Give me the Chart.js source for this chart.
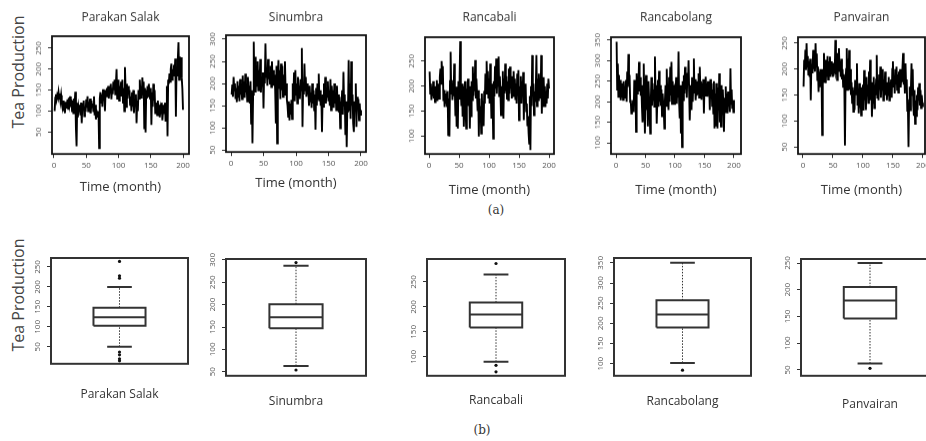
<!DOCTYPE html>
<html>
<head>
<meta charset="utf-8">
<script src="https://cdn.jsdelivr.net/npm/chart.js@4.4.0/dist/chart.umd.min.js"></script>
<style>
body { margin: 0; width: 926px; height: 441px; overflow: hidden; background: #fff; position: relative; font-family: "Open Sans", sans-serif; }
canvas { position: absolute; }
.lbl { position: absolute; color: #444; white-space: nowrap; transform: translate(-50%, -50%); }
.ylab { font-size: 16px; transform: translate(-50%, -50%) rotate(-90deg); }
.fig { font-size: 12px; color: #333; font-family: "DejaVu Serif", serif; }
</style>
</head>
<body>
<div class="lbl ylab" style="left:18px;top:72px">Tea Production</div>
<div class="lbl ylab" style="left:18px;top:295px">Tea Production</div>
<div class="lbl fig" style="left:496px;top:210px">(a)</div>
<div class="lbl fig" style="left:482px;top:430px">(b)</div>
<script>
const sites = ["Parakan Salak", "Sinumbra", "Rancabali", "Rancabolang", "Panvairan"];
const bottomNames = ["Parakan Salak", "Sinumbra", "Rancabali", "Rancabolang", "Panvairan"];

// monthly tea production, months 1..200
const parakanSalak = [
    100, 132, 140, 128, 138, 133, 145, 130, 142, 125,
    138, 120, 110, 125, 100, 118, 95, 122, 108, 115,
    128, 105, 132, 118, 135, 110, 128, 100, 125, 95,
    130, 115, 146, 60, 16, 120, 85, 110, 100, 115,
    90, 120, 71, 118, 105, 125, 88, 110, 98, 128,
    108, 135, 100, 122, 112, 130, 95, 125, 110, 118,
    100, 135, 90, 115, 80, 100, 95, 85, 100, 12,
    130, 145, 120, 140, 110, 152, 125, 145, 100, 150,
    135, 155, 140, 160, 130, 150, 145, 165, 128, 155,
    140, 170, 150, 175, 140, 165, 200, 130, 160, 175,
    125, 160, 140, 170, 135, 175, 120, 155, 100, 205,
    150, 110, 165, 130, 160, 140, 150, 115, 135, 100,
    145, 110, 150, 95, 130, 115, 140, 71, 125, 100,
    150, 130, 175, 140, 160, 130, 180, 140, 170, 59,
    155, 49, 150, 130, 160, 135, 165, 140, 130, 155,
    67, 145, 110, 165, 125, 150, 95, 120, 110, 90,
    125, 100, 115, 85, 105, 95, 120, 78, 100, 115,
    95, 120, 75, 110, 160, 40, 175, 165, 190, 170,
    200, 213, 175, 200, 185, 210, 190, 225, 87, 205,
    185, 225, 264, 175, 230, 190, 228, 180, 154, 103
];
const sinumbra = [
    175, 198, 170, 215, 185, 200, 165, 190, 158, 205,
    170, 195, 160, 210, 175, 200, 165, 218, 178, 205,
    168, 222, 180, 200, 160, 215, 175, 195, 155, 205,
    110, 185, 65, 175, 294, 190, 260, 180, 240, 195,
    250, 185, 230, 200, 255, 180, 215, 195, 225, 144,
    225, 200, 290, 215, 235, 195, 255, 210, 225, 200,
    240, 192, 250, 205, 230, 195, 220, 185, 110, 240,
    65, 210, 253, 190, 230, 165, 245, 185, 240, 170,
    220, 175, 250, 185, 200, 163, 150, 125, 160, 117,
    155, 130, 163, 120, 200, 170, 225, 160, 230, 175,
    200, 155, 215, 180, 195, 165, 210, 185, 280, 102,
    200, 175, 245, 185, 215, 170, 200, 175, 190, 150,
    195, 160, 180, 145, 200, 155, 185, 140, 175, 96,
    190, 150, 200, 165, 222, 160, 185, 150, 170, 91,
    175, 148, 200, 165, 215, 155, 190, 170, 205, 160,
    185, 150, 210, 140, 195, 160, 185, 145, 200, 155,
    180, 140, 195, 150, 175, 135, 170, 99, 160, 145,
    185, 130, 226, 150, 175, 84, 160, 57, 150, 135,
    253, 140, 200, 120, 250, 150, 175, 110, 91, 160,
    140, 200, 102, 170, 150, 165, 117, 155, 130, 140
];
const rancabali = [
    229, 185, 205, 172, 198, 180, 210, 175, 195, 168,
    200, 178, 212, 170, 190, 205, 175, 218, 235, 205,
    250, 225, 240, 170, 192, 158, 185, 165, 175, 160,
    190, 102, 175, 99, 210, 269, 185, 212, 172, 200,
    180, 245, 195, 140, 199, 119, 185, 115, 210, 175,
    218, 290, 190, 160, 205, 139, 200, 119, 175, 210,
    150, 115, 195, 175, 215, 160, 200, 115, 185, 140,
    210, 172, 239, 180, 225, 190, 252, 175, 215, 185,
    150, 192, 99, 175, 130, 160, 105, 185, 140, 170,
    120, 190, 165, 225, 185, 250, 200, 230, 175, 215,
    165, 245, 190, 135, 205, 170, 95, 210, 179, 240,
    195, 255, 185, 230, 200, 259, 180, 220, 190, 142,
    200, 172, 230, 135, 215, 185, 245, 190, 220, 175,
    210, 172, 235, 185, 239, 195, 220, 175, 210, 180,
    230, 190, 215, 172, 205, 165, 225, 180, 232, 132,
    200, 175, 220, 165, 210, 185, 228, 132, 195, 170,
    205, 150, 165, 120, 140, 105, 85, 180, 72, 200,
    160, 262, 185, 205, 142, 190, 170, 195, 262, 160,
    215, 172, 225, 185, 200, 175, 262, 145, 210, 160,
    218, 170, 200, 158, 190, 165, 205, 175, 215, 195
];
const rancabolang = [
    346, 230, 293, 212, 265, 215, 253, 204, 240, 210,
    245, 205, 250, 215, 235, 208, 253, 200, 273, 236,
    316, 250, 265, 200, 204, 172, 195, 180, 204, 175,
    253, 220, 245, 127, 269, 220, 250, 235, 297, 225,
    260, 215, 240, 188, 150, 170, 293, 200, 123, 240,
    265, 180, 230, 140, 250, 210, 180, 123, 200, 260,
    190, 245, 205, 230, 188, 310, 215, 240, 147, 200,
    253, 188, 275, 200, 240, 190, 230, 165, 220, 195,
    180, 135, 205, 240, 190, 280, 210, 235, 180, 260,
    200, 285, 215, 297, 195, 250, 210, 240, 195, 230,
    225, 260, 195, 245, 210, 322, 200, 160, 240, 123,
    215, 90, 250, 204, 265, 220, 285, 230, 255, 210,
    270, 240, 301, 225, 155, 215, 240, 180, 260, 200,
    245, 305, 220, 255, 204, 240, 215, 250, 220, 269,
    210, 285, 230, 250, 205, 245, 225, 255, 172, 240,
    215, 261, 225, 245, 212, 250, 220, 240, 180, 255,
    210, 245, 190, 230, 172, 250, 135, 220, 140, 245,
    200, 135, 235, 180, 269, 150, 220, 140, 240, 170,
    230, 190, 127, 210, 175, 237, 185, 220, 172, 225,
    190, 215, 175, 281, 195, 230, 185, 204, 175, 204
];
const panvairan = [
    166, 218, 200, 237, 198, 250, 205, 225, 190, 215,
    185, 220, 140, 210, 200, 192, 237, 200, 225, 195,
    250, 205, 230, 179, 205, 156, 195, 165, 200, 180,
    190, 73, 200, 175, 231, 190, 218, 173, 210, 185,
    225, 180, 215, 190, 224, 185, 215, 190, 205, 185,
    212, 200, 195, 256, 190, 225, 179, 231, 200, 240,
    195, 215, 185, 220, 180, 200, 166, 190, 170, 53,
    175, 200, 240, 160, 220, 170, 237, 160, 200, 150,
    175, 135, 165, 118, 160, 121, 179, 150, 165, 211,
    130, 160, 115, 173, 125, 155, 111, 165, 135, 170,
    120, 198, 140, 175, 121, 185, 150, 170, 135, 195,
    160, 218, 140, 175, 108, 165, 135, 185, 125, 170,
    150, 180, 227, 145, 175, 140, 190, 160, 205, 145,
    185, 160, 200, 140, 180, 155, 195, 150, 175, 140,
    170, 150, 185, 140, 175, 160, 180, 145, 200, 215,
    165, 185, 153, 200, 170, 205, 160, 190, 155, 195,
    170, 200, 165, 185, 175, 205, 231, 170, 190, 153,
    211, 165, 180, 120, 130, 50, 140, 166, 121, 160,
    211, 150, 200, 130, 110, 160, 95, 140, 110, 150,
    121, 165, 140, 173, 130, 160, 125, 150, 135, 127
];
const series = [parakanSalak, sinumbra, rancabali, rancabolang, panvairan];
const months = parakanSalak.map((v, i) => i + 1);

// box plot statistics per estate
const whiskerLow = [50, 63, 90, 102, 62];
const q1 = [103, 147, 159, 190, 146];
const median = [124, 172, 185, 222, 180];
const q3 = [148, 201, 209, 257, 205];
const whiskerHigh = [200, 287, 265, 350, 250];
const outliers = [[264, 228, 222, 37, 30, 20, 15], [294, 54], [287, 83, 70], [84], [53]];

// tick labels
const xTicks = [0, 50, 100, 150, 200];
const yTicks = [
    [50, 100, 150, 200, 250],
    [50, 100, 150, 200, 250, 300],
    [100, 150, 200, 250],
    [100, 150, 200, 250, 300, 350],
    [50, 100, 150, 200, 250]
];

// plot boxes (pixels) and axis ranges
const topPanels = [
    { L: 52, T: 36, R: 189, B: 154, xMin: -3.1, xMax: 209.3, yMin: -2.4, yMax: 278.6, labelY: 187 },
    { L: 226, T: 35, R: 366, B: 152, xMin: -7.7, xMax: 207.7, yMin: 45.5, yMax: 309, labelY: 183 },
    { L: 425, T: 37, R: 554, B: 154, xMin: -6.7, xMax: 208.3, yMin: 64, yMax: 298, labelY: 190 },
    { L: 611, T: 37, R: 741, B: 154, xMin: -8.5, xMax: 211.9, yMin: 73, yMax: 357, labelY: 190 },
    { L: 798, T: 37, R: 925, B: 154, xMin: -8.3, xMax: 203.5, yMin: 36.5, yMax: 261.5, labelY: 190 }
];
const bottomPanels = [
    { L: 51, T: 258, R: 188, B: 364, yMin: 7.5, yMax: 272.5, labelY: 395 },
    { L: 226, T: 259, R: 366, B: 376, yMin: 41, yMax: 302, labelY: 402 },
    { L: 427, T: 259, R: 565, B: 376, yMin: 62, yMax: 296, labelY: 401 },
    { L: 614, T: 258, R: 751, B: 376, yMin: 70, yMax: 362, labelY: 402 },
    { L: 801, T: 259, R: 939, B: 376, yMin: 39, yMax: 257.5, labelY: 405 }
];

const fontFamily = '"Open Sans", sans-serif';
const tickFont = { family: fontFamily, size: 8 };
const tickColor = '#555';
const textColor = '#333';

const framePlugin = {
    id: 'frame',
    afterDatasetsDraw(chart, args, opts)
    {
        const a = chart.chartArea;
        const ctx = chart.ctx;
        ctx.save();
        ctx.strokeStyle = opts.color;
        ctx.lineWidth = opts.width;
        ctx.strokeRect(a.left, a.top, a.right - a.left, a.bottom - a.top);
        ctx.restore();
    }
};

function MakeCanvas(left, top, width, height)
{
    const cv = document.createElement('canvas');
    cv.width = width;
    cv.height = height;
    cv.style.left = left + 'px';
    cv.style.top = top + 'px';
    cv.style.width = width + 'px';
    cv.style.height = height + 'px';
    document.body.appendChild(cv);
    return cv;
}

function YScale(p, ticks, yw)
{
    return {
        type: 'linear',
        min: p.yMin,
        max: p.yMax,
        afterBuildTicks: s => { s.ticks = ticks.map(v => ({ value: v })); },
        afterFit: s => { s.width = yw; },
        grid: { display: true, drawOnChartArea: false, drawTicks: true, tickLength: 4, color: '#333' },
        border: { display: false },
        ticks: { minRotation: 90, maxRotation: 90, crossAlign: 'center', padding: 2, autoSkip: false, font: tickFont, color: tickColor }
    };
}

function DrawSeries(i)
{
    const p = topPanels[i];
    const yw = 30, padR = 10;
    const xh = p.labelY - p.B + 7.8;
    const cv = MakeCanvas(p.L - yw, 0, (p.R - p.L) + yw + padR, p.B + xh);
    new Chart(cv, {
        type: 'line',
        data: {
            datasets: [{
                data: series[i].map((v, k) => ({ x: months[k], y: v })),
                borderColor: '#000',
                borderWidth: 1.9,
                pointRadius: 0,
                tension: 0
            }]
        },
        options: {
            responsive: false,
            animation: false,
            events: [],
            layout: { padding: { top: 0, right: padR, left: 0, bottom: 0 } },
            plugins: {
                legend: { display: false },
                tooltip: { enabled: false },
                title: {
                    display: true,
                    text: sites[i],
                    fullSize: false,
                    color: textColor,
                    font: { family: fontFamily, size: 12, weight: 'normal' },
                    padding: { top: 10.8, bottom: p.T - 25.2 }
                },
                frame: { color: '#111', width: 1.8 }
            },
            scales: {
                x: {
                    type: 'linear',
                    min: p.xMin,
                    max: p.xMax,
                    afterBuildTicks: s => { s.ticks = xTicks.map(v => ({ value: v })); },
                    afterFit: s => { s.height = xh; },
                    grid: { display: true, drawOnChartArea: false, drawTicks: true, tickLength: 4, color: '#333' },
                    border: { display: false },
                    ticks: { maxRotation: 0, padding: 3, autoSkip: false, font: tickFont, color: tickColor },
                    title: { display: true, text: 'Time (month)', color: textColor, font: { family: fontFamily, size: 13 }, padding: 0 }
                },
                y: YScale(p, yTicks[i], yw)
            }
        },
        plugins: [framePlugin]
    });
}

function DrawBox(i)
{
    const p = bottomPanels[i];
    const yw = 30, padR = 10, padT = 10;
    const xh = p.labelY - p.B + 7.2;
    const cv = MakeCanvas(p.L - yw, p.T - padT, (p.R - p.L) + yw + padR, (p.B - p.T) + padT + xh);
    const c = 0.5, bw = 0.19, cw = 0.09;
    const line = (pts, width, dash) => ({
        type: 'line', data: pts, borderColor: '#333', borderWidth: width, borderDash: dash || [],
        pointRadius: 0, showLine: true, fill: false, tension: 0
    });
    new Chart(cv, {
        type: 'scatter',
        data: {
            datasets: [
                line([{ x: c, y: q3[i] }, { x: c, y: whiskerHigh[i] }], 1, [1.5, 1.5]),
                line([{ x: c, y: whiskerLow[i] }, { x: c, y: q1[i] }], 1, [1.5, 1.5]),
                line([{ x: c - cw, y: whiskerHigh[i] }, { x: c + cw, y: whiskerHigh[i] }], 2),
                line([{ x: c - cw, y: whiskerLow[i] }, { x: c + cw, y: whiskerLow[i] }], 2),
                line([
                    { x: c - bw, y: q1[i] }, { x: c + bw, y: q1[i] }, { x: c + bw, y: q3[i] },
                    { x: c - bw, y: q3[i] }, { x: c - bw, y: q1[i] }
                ], 2),
                line([{ x: c - bw, y: median[i] }, { x: c + bw, y: median[i] }], 2),
                {
                    type: 'scatter',
                    data: outliers[i].map(v => ({ x: c, y: v })),
                    pointRadius: 1.6,
                    pointBackgroundColor: '#111',
                    pointBorderWidth: 0
                }
            ]
        },
        options: {
            responsive: false,
            animation: false,
            events: [],
            layout: { padding: { top: padT, right: padR, left: 0, bottom: 0 } },
            plugins: {
                legend: { display: false },
                tooltip: { enabled: false },
                frame: { color: '#333', width: 2 }
            },
            scales: {
                x: {
                    type: 'linear',
                    min: 0,
                    max: 1,
                    afterFit: s => { s.height = xh; },
                    grid: { display: false },
                    border: { display: false },
                    ticks: { display: false },
                    title: { display: true, text: bottomNames[i], color: textColor, font: { family: fontFamily, size: 12 }, padding: 0 }
                },
                y: YScale(p, yTicks[i], yw)
            }
        },
        plugins: [framePlugin]
    });
}

for (let i = 0; i < 5; i++)
{
    DrawSeries(i);
    DrawBox(i);
}
</script>
</body>
</html>
